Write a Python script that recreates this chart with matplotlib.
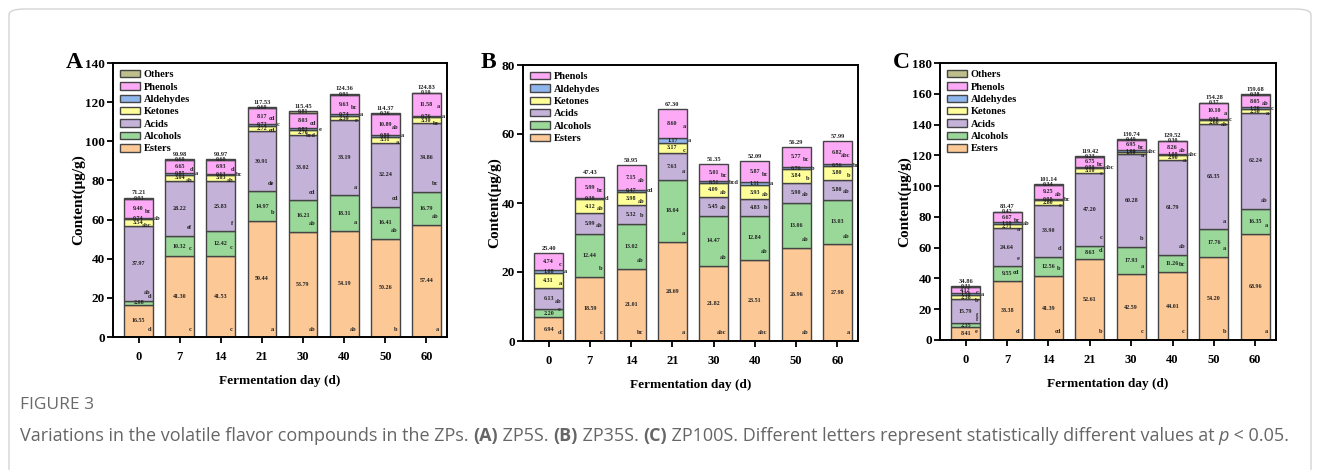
import matplotlib
matplotlib.use("Agg")
import matplotlib.pyplot as plt
from matplotlib.patches import FancyBboxPatch, Patch
import numpy as np

days = ["0", "7", "14", "21", "30", "40", "50", "60"]
compounds = ["Esters", "Alcohols", "Acids", "Ketones", "Aldehydes", "Phenols", "Others"]

# Panel A (ZP5S)
a_esters = [16.55, 41.30, 41.53, 59.44, 53.79, 54.19, 50.26, 57.44]
a_alcohols = [2.08, 10.32, 12.42, 14.97, 16.21, 18.31, 16.41, 16.79]
a_acids = [37.97, 28.22, 25.83, 30.91, 33.02, 38.19, 32.24, 34.86]
a_ketones = [3.54, 3.04, 3.03, 2.72, 2.76, 2.39, 3.51, 3.30]
a_aldehydes = [0.74, 0.85, 0.63, 0.72, 0.83, 0.74, 0.80, 0.76]
a_phenols = [9.40, 6.65, 6.93, 8.17, 8.03, 9.63, 10.89, 11.58]
a_others = [0.93, 0.60, 0.60, 0.60, 0.81, 0.91, 0.26, 0.10]
a_totals = ["71.21", "90.98", "90.97", "117.53", "115.45", "124.36", "114.37", "124.83"]

# Panel B (ZP35S)
b_esters = [6.94, 18.59, 21.01, 28.69, 21.82, 23.51, 26.96, 27.98]
b_alcohols = [2.20, 12.44, 13.02, 18.04, 14.47, 12.84, 13.06, 13.03]
b_acids = [6.13, 5.99, 5.32, 7.63, 5.45, 4.83, 5.90, 5.80]
b_ketones = [4.31, 4.12, 3.98, 3.17, 4.09, 3.93, 3.84, 3.80]
b_aldehydes = [1.08, 0.30, 0.47, 1.17, 0.51, 1.11, 0.76, 0.56]
b_phenols = [4.74, 5.99, 7.15, 8.60, 5.01, 5.87, 5.77, 6.82]
b_totals = ["25.40", "47.43", "50.95", "67.30", "51.35", "52.09", "56.29", "57.99"]

# Panel C (ZP100S)
c_esters = [8.41, 38.38, 41.39, 52.61, 42.59, 44.01, 54.20, 68.96]
c_alcohols = [2.35, 9.55, 12.56, 8.63, 17.93, 11.26, 17.76, 16.35]
c_acids = [15.79, 24.64, 33.90, 47.20, 60.28, 61.79, 68.35, 62.24]
c_ketones = [2.38, 2.71, 2.80, 3.10, 1.50, 2.90, 2.60, 2.50]
c_aldehydes = [1.50, 1.10, 0.90, 0.90, 1.00, 1.00, 0.90, 1.20]
c_phenols = [4.12, 6.67, 9.25, 6.75, 6.95, 8.26, 10.10, 8.05]
c_others = [0.31, 0.42, 0.34, 0.23, 0.49, 0.30, 0.37, 0.38]
c_totals = ["34.86", "83.47", "101.14", "119.42", "130.74", "129.52", "154.28", "159.68"]

# significance letters
a_letters = {
    "Esters": ["d", "c", "c", "a", "ab", "ab", "b", "a"],
    "Alcohols": ["d", "c", "c", "b", "ab", "a", "ab", "ab"],
    "Acids": ["ab", "ef", "f", "de", "cd", "a", "cd", "bc"],
    "Ketones": ["abc", "ab", "ab", "cd", "bcd", "e", "a", "bc"],
    "Aldehydes": ["ab", "a", "bc", "c", "e", "a", "a", "a"],
    "Phenols": ["bc", "d", "d", "cd", "cd", "bc", "ab", "a"],
}
b_letters = {
    "Esters": ["d", "c", "bc", "a", "abc", "abc", "ab", "a"],
    "Alcohols": ["c", "b", "ab", "a", "ab", "ab", "ab", "ab"],
    "Acids": ["ab", "ab", "b", "a", "ab", "b", "ab", "ab"],
    "Ketones": ["a", "ab", "ab", "c", "ab", "ab", "b", "b"],
    "Aldehydes": ["a", "d", "cd", "a", "bcd", "a", "b", "bc"],
    "Phenols": ["c", "bc", "ab", "a", "bc", "bc", "bc", "abc"],
}
c_letters = {
    "Esters": ["e", "d", "cd", "b", "c", "c", "b", "a"],
    "Alcohols": ["f", "cd", "b", "d", "a", "bc", "a", "a"],
    "Acids": ["f", "e", "d", "c", "b", "ab", "a", "ab"],
    "Ketones": ["b", "a", "c", "c", "a", "a", "ab", "a"],
    "Aldehydes": ["a", "ab", "bc", "abc", "abc", "abc", "c", "c"],
    "Phenols": ["c", "bc", "ab", "bc", "bc", "ab", "a", "ab"],
}

colors = {
    "Esters": "#FCC896",
    "Alcohols": "#9AD89A",
    "Acids": "#C4B2D8",
    "Ketones": "#FFFF9A",
    "Aldehydes": "#8FB6EC",
    "Phenols": "#FCAAF6",
    "Others": "#BEBE8C",
}

serif = ["Liberation Serif", "DejaVu Serif"]
plt.rcParams["font.family"] = serif

fig = plt.figure(figsize=(13.2, 4.7), dpi=100)
W, H = 1320, 470

# card border
card = FancyBboxPatch((9 / W, -0.1), (1302) / W, (470 - 9) / H + 0.1,
                      boxstyle="round,pad=0,rounding_size=0.012",
                      transform=fig.transFigure, fill=False,
                      edgecolor="#d4d4d4", linewidth=1.0)
fig.add_artist(card)


def px_axes(l, r, t, b):
    return [l / W, 1 - b / H, (r - l) / W, (b - t) / H]


panels = [
    dict(rect=px_axes(113, 447, 63, 337), ylim=140, step=20, letter="A",
         data=[a_esters, a_alcohols, a_acids, a_ketones, a_aldehydes, a_phenols, a_others],
         names=compounds, totals=a_totals, letters=a_letters, lx=66),
    dict(rect=px_axes(523, 858, 65, 341), ylim=80, step=20, letter="B",
         data=[b_esters, b_alcohols, b_acids, b_ketones, b_aldehydes, b_phenols],
         names=compounds[:6], totals=b_totals, letters=b_letters, lx=481),
    dict(rect=px_axes(940, 1276, 63, 340), ylim=180, step=20, letter="C",
         data=[c_esters, c_alcohols, c_acids, c_ketones, c_aldehydes, c_phenols, c_others],
         names=compounds, totals=c_totals, letters=c_letters, lx=893),
]

x = np.arange(len(days))
bw = 0.70
for p in panels:
    ax = fig.add_axes(p["rect"])
    bottom = np.zeros(len(days))
    handles = []
    for name, vals in zip(p["names"], p["data"]):
        vals = np.array(vals)
        ax.bar(x, vals, bw, bottom=bottom, color=colors[name],
               edgecolor="#444444", linewidth=1.0, zorder=2)
        handles.append(Patch(facecolor=colors[name], edgecolor="#444444",
                             linewidth=1.0, label=name))
        for i, v in enumerate(vals):
            yc = bottom[i] + v / 2
            ax.text(x[i], yc, f"{v:.2f}", ha="center", va="center",
                    fontsize=4.3, fontweight="bold", color="#222222", zorder=3)
            lets = p["letters"].get(name)
            if lets:
                if name == "Aldehydes":
                    ax.text(x[i] + bw / 2 + 0.02, yc, lets[i], ha="left", va="center",
                            fontsize=4.6, fontweight="bold", color="#222222", zorder=3)
                elif name in ("Ketones", "Phenols"):
                    ax.text(x[i] + bw / 2 - 0.03, yc - 0.01 * p["ylim"], lets[i],
                            ha="right", va="center", fontsize=4.6, fontweight="bold",
                            color="#222222", zorder=3)
                else:
                    ax.text(x[i] + bw / 2 - 0.05, bottom[i] + 0.02 * p["ylim"],
                            lets[i], ha="right", va="bottom", fontsize=4.6,
                            fontweight="bold", color="#222222", zorder=3)
        bottom = bottom + vals
    for i, t in enumerate(p["totals"]):
        ax.text(x[i], bottom[i] + 0.008 * p["ylim"], t, ha="center", va="bottom",
                fontsize=4.6, fontweight="bold", color="#222222")
    ax.set_xlim(-0.62, 7.5)
    ax.set_ylim(0, p["ylim"])
    ax.set_yticks(np.arange(0, p["ylim"] + 1, p["step"]))
    ax.set_xticks(x)
    ax.set_xticklabels(days)
    for lab in ax.get_xticklabels() + ax.get_yticklabels():
        lab.set_fontweight("bold")
    ax.tick_params(axis="y", labelsize=9.5, direction="out", length=4, width=1.3, pad=2)
    ax.tick_params(axis="x", labelsize=9, direction="out", length=4, width=1.3, pad=6)
    for s in ax.spines.values():
        s.set_linewidth(1.4)
    ax.set_ylabel("Content(\u03bcg/g)", fontsize=11, fontweight="bold", labelpad=0)
    ax.set_xlabel("Fermentation day (d)", fontsize=9.5, fontweight="bold", labelpad=9)
    ax.legend(handles=handles[::-1], loc="upper left",
              prop={"weight": "bold", "size": 7.5}, frameon=False,
              handlelength=1.9, handleheight=0.75, labelspacing=0.28,
              handletextpad=0.4, borderaxespad=0.25)
    fig.text(p["lx"] / W, 1 - 62 / H, p["letter"], fontsize=17, fontweight="bold",
             ha="left", va="center")

# Caption
sans = ["Open Sans", "DejaVu Sans"]
fig.text(20 / W, 1 - 405 / H, "FIGURE 3", fontsize=12.5, color="#6a6a6a",
         family=sans, ha="left", va="center")

pieces = [
    ("Variations in the volatile flavor compounds in the ZPs. ", "normal", "normal"),
    ("(A)", "bold", "normal"),
    (" ZP5S. ", "normal", "normal"),
    ("(B)", "bold", "normal"),
    (" ZP35S. ", "normal", "normal"),
    ("(C)", "bold", "normal"),
    (" ZP100S. Different letters represent statistically different values at ", "normal", "normal"),
    ("p", "normal", "italic"),
    (" < 0.05.", "normal", "normal"),
]
fig.canvas.draw()
renderer = fig.canvas.get_renderer()
xpos = 20
for txt, wt, st in pieces:
    t = fig.text(xpos / W, 1 - 436 / H, txt, fontsize=13.0, color="#666666",
                 family=sans, fontweight=wt, fontstyle=st, ha="left", va="center")
    bb = t.get_window_extent(renderer=renderer)
    xpos += bb.width

fig.savefig("out.png", dpi=100, facecolor="white")
